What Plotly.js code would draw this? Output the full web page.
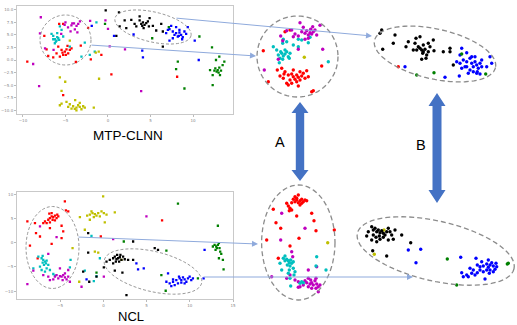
<!DOCTYPE html>
<html>
<head>
<meta charset="utf-8">
<script src="https://cdn.plot.ly/plotly-3.0.1.min.js"></script>
<style>html,body{margin:0;padding:0;background:#fff;}#chart{width:517px;height:325px;}</style>
</head>
<body>
<div id="chart"></div>
<script>
// ---------- Panel titles and labels ----------
const panelTitles = ["MTP-CLNN", "NCL"];
const arrowLabels = ["A", "B"];

// ---------- Top-left panel (MTP-CLNN t-SNE) ----------
const tlTicksX = [-10, -5, 0, 5, 10];
const tlTicksY = [-10, -7.5, -5, -2.5, 0, 2.5, 5, 7.5, 10];
const tlMagenta = [[-7.9,8.5],[-8.0,5.3],[-8.8,-0.8],[-8.1,-5.2],[-7.4,2.3],[-6.4,2.0],[-5.1,7.0],[-4.7,6.5],[-4.3,6.9],[-4.0,7.3],[-3.7,6.8],[-3.9,6.1],[-3.3,7.7],[-4.4,5.7],[-5.5,5.2],[-3.6,5.5],[-5.0,7.5],[-2.1,7.8],[-0.3,7.9],[0.0,6.2],[0.2,2.7],[2.0,2.1],[3.9,-6.2],[-4.2,7.3],[-3.5,7.2]];
const tlCyan = [[-6.25,4.13],[-6.05,3.87],[-5.85,4.33],[-6.13,3.67],[-5.74,4.0],[-6.44,4.8],[-5.97,5.33],[-5.46,6.0],[-5.66,6.67],[-6.64,5.2],[-6.25,3.33],[-5.27,4.67],[-4.49,2.67],[-2.73,3.47],[-2.14,1.0],[-1.36,7.47],[-1.56,1.67],[-3.12,0.67],[-6.44,4.13],[-5.97,4.53]];
const tlRed = [[-5.85,2.67],[-5.46,2.0],[-5.07,1.67],[-4.88,2.13],[-4.68,1.33],[-5.27,1.0],[-5.66,0.67],[-4.49,2.0],[-4.96,1.0],[-5.35,1.47],[-4.29,2.33],[-6.05,1.33],[-5.74,7.2],[-5.27,7.2],[-7.49,4.8],[-7.22,2.13],[-7.03,0.8],[-3.78,-0.4],[-3.2,2.87],[-2.34,6.4],[-0.78,1.0],[-2.02,0.13],[-9.49,-0.33],[0.4,-2.87],[-5.27,-7.0],[8.13,-3.33],[-6.44,0.53],[-4.76,2.8]];
const tlYellow = [[-4.88,-8.33],[-4.49,-8.8],[-4.1,-9.2],[-3.71,-9.47],[-3.32,-9.33],[-3.9,-9.73],[-4.29,-9.67],[-3.51,-9.0],[-3.12,-9.8],[-4.68,-9.33],[-2.92,-9.2],[-5.46,-8.67],[-5.66,-9.0],[-2.73,-9.47],[-1.67,-9.47],[-3.71,-10.0],[-3.86,-8.0],[-3.32,-8.53],[-5.66,-3.47],[-5.03,-4.33],[-5.46,-6.13],[-1.05,-3.73],[-1.44,1.47],[-1.09,1.67],[-4.49,3.87]];
const tlBlack = [[-0.27,9.87],[1.29,9.47],[1.96,7.87],[2.74,8.0],[3.13,7.2],[3.72,7.87],[3.91,7.2],[4.11,7.47],[4.3,7.0],[4.5,7.33],[4.03,6.8],[4.69,7.67],[3.72,8.67],[3.33,6.67],[4.89,8.33],[5.28,6.8],[5.67,5.87],[6.45,5.67],[6.26,7.2],[0.98,4.8],[6.45,2.67],[2.15,6.33],[1.37,6.67],[4.19,6.33],[4.81,6.67]];
const tlBlue = [[6.84,5.33],[7.23,6.13],[7.62,5.67],[7.82,5.0],[8.01,5.33],[8.21,4.67],[8.4,5.47],[8.6,5.0],[8.79,4.53],[7.43,6.8],[7.04,6.0],[8.01,6.53],[8.4,6.0],[8.99,5.67],[9.38,6.53],[8.72,4.13],[7.62,4.33],[7.23,3.87],[8.33,4.8],[9.19,5.2],[0.71,4.8],[3.01,5.07],[4.03,1.87],[4.11,0.53],[10.67,0.0],[10.2,3.87],[-1.91,6.8]];
const tlGreen = [[12.62,-1.67],[12.9,-2.0],[13.09,-1.53],[12.78,-2.33],[13.29,-2.13],[13.01,-2.53],[12.51,-2.13],[12.31,-3.0],[13.17,-3.0],[13.48,-1.0],[13.68,-0.33],[12.7,0.0],[13.09,0.67],[12.0,-2.0],[12.23,2.53],[12.31,-5.0],[8.99,-5.67],[8.21,-0.33],[8.01,-1.8],[10.75,4.67],[5.2,4.33],[-0.35,7.2],[7.15,6.53]];

// ---------- Bottom-left panel (NCL t-SNE) ----------
const blTicksX = [-5, 0, 5, 10, 15];
const blTicksY = [-10, -5, 0, 5, 10];
const blRed = [[-6.76,4.44],[-6.38,4.79],[-6.19,5.14],[-5.99,5.49],[-5.8,5.35],[-5.61,5.63],[-5.42,5.14],[-5.22,5.49],[-5.88,4.79],[-6.57,4.1],[-6.19,4.24],[-5.61,4.65],[-5.34,5.83],[-5.99,6.18],[-6.26,6.04],[-6.96,4.1],[-7.92,4.1],[-8.8,4.44],[-7.8,2.0],[-7.34,1.32],[-8.5,-0.56],[-5.99,-0.21],[-4.65,2.36],[-4.84,0.97],[-4.34,6.74],[-4.07,6.53],[-4.46,8.61],[-6.19,3.06],[-4.84,3.54],[-7.61,-3.2],[6.79,4.65],[-0.3,1.32]];
const blYellow = [[-1.88,5.63],[-1.57,5.83],[-1.26,6.18],[-0.99,5.97],[-0.8,5.63],[-0.6,6.18],[-0.41,5.49],[-0.22,6.53],[-1.11,5.35],[-1.38,6.53],[0.05,6.18],[0.36,5.83],[1.32,6.32],[-0.03,9.65],[-1.57,4.79],[0.16,4.24],[-2.72,5.35],[-3.57,-1.11],[-0.99,-1.8],[-0.6,-2.01],[-2.8,-8.06],[2.09,-3.54],[-2.15,2.71]];
const blCyan = [[-7.15,-3.19],[-6.96,-3.54],[-6.76,-3.89],[-6.57,-3.68],[-6.65,-4.24],[-6.88,-4.58],[-7.03,-4.1],[-6.38,-4.58],[-7.34,-4.93],[-7.15,-5.63],[-6.57,-5.28],[-6.19,-5.63],[-6.76,-5.97],[-5.8,-6.46],[-5.61,-6.8],[-7.53,-2.85],[-7.03,-2.71],[-8.11,-5.28],[-3.88,-5.07],[-3.8,-3.54],[-1.38,1.46],[-0.41,-3.19],[-0.8,-6.88],[-1.11,-7.92],[-2.15,-5.76]];
const blMagenta = [[-5.42,-6.67],[-5.03,-6.88],[-4.84,-7.01],[-4.65,-6.67],[-4.45,-7.15],[-5.22,-7.36],[-4.26,-7.57],[-4.07,-7.01],[-4.72,-7.71],[-5.61,-7.01],[-5.8,-7.57],[-3.88,-8.06],[-6.38,-7.01],[-6.96,-6.67],[-4.45,-6.32],[-5.03,-5.28],[-6.38,-2.29],[-7.34,3.4],[-5.42,1.18],[-8.11,-5.76],[-8.8,-8.54],[-4.07,-5.63],[-2.53,-9.1],[0.05,-7.01],[1.13,0.76],[4.98,5.49],[-6.19,-7.71]];
const blBlack = [[0.74,-3.54],[1.13,-3.19],[1.32,-2.85],[1.51,-3.4],[1.7,-3.19],[1.9,-2.99],[2.09,-3.54],[1.82,-3.89],[1.44,-3.89],[2.28,-2.85],[2.47,-3.4],[1.59,-2.5],[1.97,-2.5],[2.86,-3.54],[3.44,-3.54],[1.13,-4.24],[0.36,-3.89],[-1.76,-2.01],[-1.76,2.01],[-2.34,-5.97],[-0.8,-7.01],[-1.64,-8.06],[0.05,-5.07],[1.32,-5.76],[2.2,-6.18],[2.67,-10.83],[3.44,0.28],[5.94,-1.11],[6.32,-1.46]];
const blBlue = [[7.67,-8.4],[8.06,-8.06],[8.44,-7.71],[8.83,-7.36],[9.02,-7.71],[9.21,-7.15],[9.4,-7.57],[9.6,-8.06],[9.79,-7.36],[9.98,-7.01],[10.17,-7.71],[8.63,-8.4],[8.25,-8.75],[7.86,-8.96],[9.02,-8.26],[9.4,-8.4],[8.75,-7.01],[10.36,-7.36],[7.29,-8.06],[8.06,-7.57],[3.82,-4.24],[4.67,-5.28],[4.01,-5.49],[-1.95,-7.57],[7.48,-6.32],[11.71,-1.46],[11.6,-7.36]];
const blGreen = [[12.87,-0.42],[13.06,-0.76],[13.25,-0.42],[13.14,-1.11],[13.37,-0.07],[12.98,-1.46],[13.44,-1.11],[12.67,-0.76],[13.52,-1.81],[13.64,-2.29],[13.83,-3.54],[13.37,-3.19],[13.91,-5.49],[13.25,3.54],[8.63,8.13],[7.29,-1.6],[2.36,0.28],[6.71,-6.67],[7.21,-9.93],[10.94,-7.36],[-0.8,-6.18]];

// ---------- Zoomed clusters, top row (MTP-CLNN), arbitrary units ----------
const ztRed = [[45,128.3],[50,130],[23.3,109.3],[28.3,78.3],[37.3,90],[41.7,91.7],[45,88.3],[40,84],[43.3,81.7],[48.3,85],[50,80],[53.3,83.3],[55,80.7],[56.7,85],[58.3,82.7],[60,80],[61.7,84],[63.3,86.7],[51.7,76.7],[48.3,75],[46.7,76.7],[56.7,78.3],[65,81.7],[68.3,83.3],[53.3,90],[60,88.3],[66.7,89.3],[81.7,94],[71.7,68.3],[73.3,69.3],[58.3,74],[51.7,86],[44,86]];
const ztCyan = [[33.3,113.3],[36.7,110],[38.3,105],[40,101.7],[41.7,106.7],[43.3,104],[45,106],[46.7,108.3],[45,110],[42.7,100.7],[39.3,97.3],[48.3,103.3],[50,106.7],[42.7,116.7],[43.3,120.7],[46.7,118.3],[53.3,115],[58.3,113.3],[61.7,120],[68.3,117.3],[70,122.7],[88.3,98.3],[58.3,120.7],[49.3,101.7],[40.7,108.3]];
const ztMagenta = [[60,137.3],[46.7,129.3],[51.7,130],[55,126],[58.3,124],[61.7,128.3],[65,126.7],[66.7,129.3],[68.3,125],[70,127.3],[71.7,126],[73.3,128.3],[75,130],[72.7,133.3],[80,134.7],[76.7,125],[68.3,121.7],[65,120.7],[63.3,132.7],[40.7,124],[42.7,119.3],[58.3,110.7],[38.3,100.7],[24.3,90],[82.7,110.7],[53.3,123.3],[70.7,130.7]];
const ztYellow = [[64.3,102.7]];
const ztBlack = [[141.7,130],[140,126.7],[142.7,110.7],[153.3,116.7],[155,125],[166,113.3],[168.3,118.3],[176,121.7],[180,123.3],[175,116.7],[178.3,113.3],[176.7,110],[180,111.7],[181.7,110],[183.3,108.3],[185,110.7],[182.7,106.7],[186.7,105],[188.3,108.3],[190,113.3],[193.3,120],[194,109.3],[181.7,100.7],[186,101.7],[188.3,116.7],[203.3,108.3],[210,111.7],[210,108.3],[213.3,95],[173.3,110],[183.3,115]];
const ztBlue = [[221.7,111.7],[226.7,107.3],[220,105],[216.7,98.3],[220,96.7],[223.3,100],[226.7,98.3],[230,101.7],[231.7,96.7],[233.3,93.3],[235,98.3],[236.7,95],[238.3,91.7],[240,96.7],[241.7,93.3],[237.3,88.3],[233.3,88.3],[230,90],[228.3,86.7],[225,93.3],[221.7,91.7],[231.7,103.3],[235,103.3],[241.7,100],[246.7,93.3],[250,103.3],[251.7,96.7],[240,86],[236.7,86.7],[219.3,84],[205,82.7],[165,93.3],[226.7,93.3]];
const ztGreen = [[221.7,106],[245.7,86],[194,87.3],[176.7,85]];
const ztRedB = [[158.3,93.3]];

// ---------- Zoomed clusters, bottom row (NCL), arbitrary units ----------
const zbRed = [[46.7,121.7],[48.3,119],[50,116.7],[51.7,115],[49.3,114.3],[53.3,125.7],[55,123.3],[56.7,125],[58.3,122.3],[60,124.3],[61.7,125.7],[63.3,123.3],[65,125],[66.7,124.3],[58.3,130],[56.7,126.7],[55,128.3],[61.7,121.7],[60,120],[51.7,122.3],[33.3,115.7],[36,102.3],[40.7,96.7],[56.7,109],[71.7,111.7],[74,104.3],[76,94.3],[59,86.7],[50,79],[26.7,85],[94.3,95],[38.3,66.7]];
const zbMagenta = [[41.7,111.7],[65,96.7],[40.7,85],[51.7,73.3],[52.7,68.3],[31.7,48.3],[46.7,46.7],[50,50],[55,45],[58.3,43.3],[60,38.3],[63.3,40],[65,44.3],[66.7,42.3],[68.3,46.7],[70,41],[71.7,42.3],[73.3,40],[75,44.3],[76.7,41],[78.3,38.3],[76,36.7],[71.7,36.7],[68.3,38.3],[70.7,45],[76,46.7],[80,40],[78.3,33.3],[58.3,37.7],[68.3,55],[76.7,58.3]];
const zbCyan = [[45,69],[46.7,65.7],[48.3,64.3],[49.3,62.3],[50.7,65],[51.7,61.7],[47.3,60],[50,59],[53.3,63.3],[45,64.3],[43.3,66.7],[40,61.7],[41.7,55],[49.3,55],[53.3,56.7],[55,53.3],[48.3,51.7],[50,46.7],[54,50],[61.7,43.3],[63.3,42.3],[60,41.7],[50.7,39],[76.7,68.3],[76,59],[86,55]];
const zbYellow = [[87.7,82.3],[144,95],[134.3,70.7]];
const zbBlack = [[131.7,98.3],[133.3,95],[135,96.7],[136.7,93.3],[138.3,95],[140,92.3],[141.7,94.3],[143.3,91.7],[145,90],[146.7,93.3],[148.3,96.7],[150,93.3],[151.7,90],[153.3,85.7],[148.3,85],[143.3,87.7],[139.3,89],[136,87.7],[136.7,83.3],[140,85.7],[133.3,90],[128.3,93.3],[126.7,89],[131.7,85],[155,95],[161.7,90],[170.7,82.3],[132.7,74.3],[146.7,69]];
const zbBlue = [[168.3,75],[180.7,75.7],[176,62.3],[220.7,67.7],[236,66.7],[237.3,60],[240,58.3],[243.3,59],[246.7,61],[248.3,57.7],[250,60],[251.7,62.3],[253.3,59],[255,55.7],[256.7,58.3],[253.3,53.3],[250,55],[246.7,55],[243.3,53.3],[240,55],[237.3,52.3],[235,50],[231.7,51.7],[228.3,48.3],[226.7,50],[223.3,48.3],[221.7,52.3],[245,46],[248.3,65],[241.7,63.3],[233.3,55],[230,56.7],[249.3,51.7],[256,61.7]];
const zbGreen = [[207.3,66],[216.7,40],[267.3,61],[268.3,61.7]];

// ---------- Styling ----------
const C = {red:'#ff0000', cyan:'#00bfbf', magenta:'#bf00bf', black:'#000000', blue:'#0000ff', green:'#008000', yellow:'#bfbf00'};
const W = 517, H = 325;

function tr(pts, color, xa, ya, size, symbol) {
  return {type:'scatter', mode:'markers', x:pts.map(p=>p[0]), y:pts.map(p=>p[1]),
    xaxis:xa, yaxis:ya, hoverinfo:'skip', showlegend:false,
    marker:{color:color, size:size, symbol:symbol, line:{width:0}}};
}
const traces = [];
[[tlRed,C.red],[tlCyan,C.cyan],[tlMagenta,C.magenta],[tlYellow,C.yellow],[tlBlack,C.black],[tlBlue,C.blue],[tlGreen,C.green]]
  .forEach(([p,c])=>traces.push(tr(p,c,'x','y',2.3,'square')));
[[blRed,C.red],[blYellow,C.yellow],[blCyan,C.cyan],[blMagenta,C.magenta],[blBlack,C.black],[blBlue,C.blue],[blGreen,C.green]]
  .forEach(([p,c])=>traces.push(tr(p,c,'x2','y2',2.3,'square')));
[[ztRed,C.red],[ztCyan,C.cyan],[ztMagenta,C.magenta],[ztYellow,C.yellow],[ztBlack,C.black],[ztBlue,C.blue],[ztGreen,C.green],[ztRedB,C.red]]
  .forEach(([p,c])=>traces.push(tr(p,c,'x3','y3',3.4,'circle')));
[[zbRed,C.red],[zbMagenta,C.magenta],[zbCyan,C.cyan],[zbYellow,C.yellow],[zbBlack,C.black],[zbBlue,C.blue],[zbGreen,C.green]]
  .forEach(([p,c])=>traces.push(tr(p,c,'x4','y4',3.4,'circle')));
traces.push({type:'scatter', mode:'markers', x:[], y:[], xaxis:'x5', yaxis:'y5', hoverinfo:'skip', showlegend:false});

// decorations drawn in an overlay axis measured in page pixels
function ellipsePath(cx, cy, a, b, deg) {
  const t = deg*Math.PI/180; let s = '';
  for (let i=0;i<=72;i++){
    const th = i/72*2*Math.PI;
    const x = cx + a*Math.cos(th)*Math.cos(t) - b*Math.sin(th)*Math.sin(t);
    const y = cy + a*Math.cos(th)*Math.sin(t) + b*Math.sin(th)*Math.cos(t);
    s += (i===0?'M':'L') + x.toFixed(2) + ',' + y.toFixed(2);
  }
  return s + 'Z';
}
function dblArrow(cx, y1, y2, hw, sw, hl) {
  return `M${cx},${y1}L${cx+hw},${y1+hl}L${cx+sw},${y1+hl}L${cx+sw},${y2-hl}L${cx+hw},${y2-hl}L${cx},${y2}` +
         `L${cx-hw},${y2-hl}L${cx-sw},${y2-hl}L${cx-sw},${y1+hl}L${cx-hw},${y1+hl}Z`;
}
const ell = (path, w, dash) => ({type:'path', xref:'x5', yref:'y5', path:path, layer:'above',
  line:{color:'#8c8c8c', width:w, dash:dash}});
const shapes = [
  ell(ellipsePath(65.5,40,25.5,25,0), 0.9, '3px,2px'),
  ell(ellipsePath(153,27,39,15,13), 0.9, '3px,2px'),
  ell(ellipsePath(52.5,247.5,26.5,41,0), 0.9, '3px,2px'),
  ell(ellipsePath(153,271.5,50,20,13.5), 0.9, '3px,2px'),
  ell(ellipsePath(297.5,56.5,40.5,40.5,0), 1.3, '5px,3px'),
  ell(ellipsePath(435,54,62,25,12.6), 1.3, '5px,3px'),
  ell(ellipsePath(298.3,242.5,36.7,57.5,0), 1.3, '5px,3px'),
  ell(ellipsePath(435.7,251,80.3,30,12.8), 1.3, '5px,3px'),
  {type:'path', xref:'x5', yref:'y5', layer:'above', path:dblArrow(300,102,181,8.5,4.2,11), fillcolor:'#4472c4', line:{width:0}},
  {type:'path', xref:'x5', yref:'y5', layer:'above', path:dblArrow(437,93,203,8.5,4.5,13), fillcolor:'#4472c4', line:{width:0}}
];
const conn = (x0,y0,x1,y1) => ({xref:'x5', yref:'y5', axref:'x5', ayref:'y5', x:x1, y:y1, ax:x0, ay:y0,
  text:'', showarrow:true, arrowhead:2, arrowsize:1.2, arrowwidth:1, arrowcolor:'#8faadc', standoff:0, startstandoff:0});
const txt = (s, x, y, size) => ({xref:'x5', yref:'y5', x:x, y:y, text:s, showarrow:false,
  font:{family:'Liberation Sans, Arial, sans-serif', size:size, color:'#000'}, xanchor:'center', yanchor:'middle'});
const annotations = [
  conn(175,18,372,36), conn(90,45,256,56), conn(77,237,258,244), conn(202,277,413,277),
  txt(panelTitles[0],128,135,13.5), txt(panelTitles[1],131,316,13),
  txt(arrowLabels[0],280,142,14.5), txt(arrowLabels[1],421,145,14.5)
];

const panelAxis = (domain, range, tickvals, fmt) => ({domain:domain, range:range, tickvals:tickvals, tickformat:fmt,
  showline:true, mirror:true, linecolor:'#c9c9c9', linewidth:1, ticks:'outside', ticklen:2, tickcolor:'#bbb',
  tickfont:{size:4, color:'#888', family:'DejaVu Sans'}, showgrid:false, zeroline:false, fixedrange:true});
const hidden = (domain, range) => ({domain:domain, range:range, visible:false, showgrid:false, zeroline:false, fixedrange:true});

const layout = {
  width:W, height:H, margin:{l:0,r:0,t:0,b:0}, paper_bgcolor:'#ffffff', plot_bgcolor:'rgba(0,0,0,0)',
  showlegend:false,
  xaxis: panelAxis([17/W, 233/W], [-10.7, 14.7], tlTicksX, 'd'),
  yaxis: panelAxis([1-114.3/H, 1-5.7/H], [-10.8, 10.8], tlTicksY, '.1f'),
  xaxis2: panelAxis([17/W, 233/W], [-10, 15], blTicksX, 'd'),
  yaxis2: panelAxis([1-299.3/H, 1-191.7/H], [-11.7, 10.6], blTicksY, 'd'),
  xaxis3: hidden([240/W, 1], [0, 277]),
  yaxis3: hidden([1-160/H, 1], [0, 160]),
  xaxis4: hidden([240/W, 1], [0, 277]),
  yaxis4: hidden([0, 1-160/H], [0, 165]),
  xaxis5: hidden([0, 1], [0, W]),
  yaxis5: hidden([0, 1], [H, 0]),
  shapes: shapes, annotations: annotations
};
layout.xaxis.anchor='y'; layout.yaxis.anchor='x';
layout.xaxis2.anchor='y2'; layout.yaxis2.anchor='x2';
layout.xaxis3.anchor='y3'; layout.yaxis3.anchor='x3';
layout.xaxis4.anchor='y4'; layout.yaxis4.anchor='x4';
layout.xaxis5.anchor='y5'; layout.yaxis5.anchor='x5';

Plotly.newPlot('chart', traces, layout, {staticPlot:true, displayModeBar:false});
</script>
</body>
</html>
